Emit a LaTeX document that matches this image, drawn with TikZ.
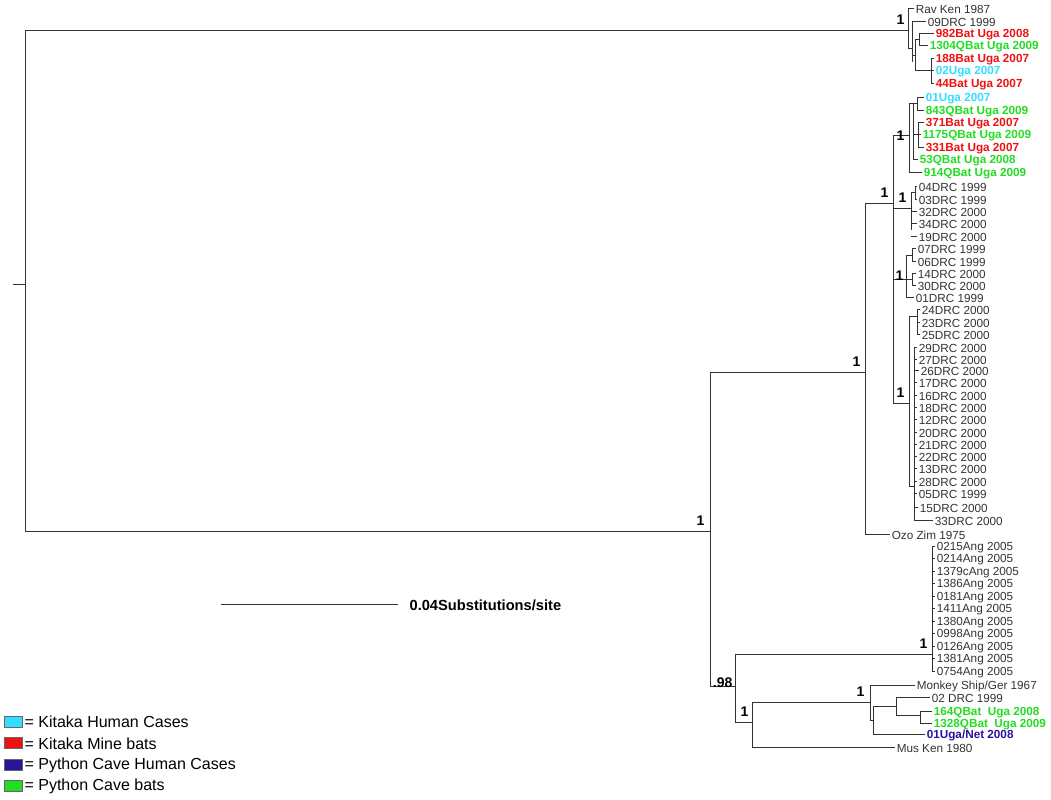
\documentclass[tikz,border=0pt]{standalone}
\usepackage{fontspec}
\setmainfont{Liberation Sans}
\usepackage{xcolor}
\definecolor{kitH}{HTML}{33DDFF}
\definecolor{kitB}{HTML}{EE1111}
\definecolor{pytH}{HTML}{2A1299}
\definecolor{pytB}{HTML}{22DD22}
\tikzset{
  br/.style={line width=0.7pt, black!80},
  lbl/.style={anchor=west, inner sep=1pt, yshift=-1pt, font=\fontsize{8.8}{9}\selectfont},
  kh/.style={lbl, text=kitH, font=\fontsize{8.8}{9}\selectfont\bfseries},
  kb/.style={lbl, text=kitB, font=\fontsize{8.8}{9}\selectfont\bfseries},
  ph/.style={lbl, text=pytH, font=\fontsize{8.8}{9}\selectfont\bfseries},
  pb/.style={lbl, text=pytB, font=\fontsize{8.8}{9}\selectfont\bfseries},
  sup/.style={font=\fontsize{10.5}{11}\selectfont\bfseries, anchor=south east, inner sep=1pt},
}
% leaf: style, node x, tip x, y, text
\newcommand{\leaf}[5][lbl]{\draw[br] (#2,#4) -- (#3,#4) node[#1] {#5};}
\newcommand{\vbr}[3]{\draw[br] (#1,#2) -- (#1,#3);}
\newcommand{\hbr}[3]{\draw[br] (#1,#3) -- (#2,#3);}
\begin{document}
\begin{tikzpicture}[x=0.75pt,y=-0.75pt]
\useasboundingbox (0,0) rectangle (1051,800);
% root
\hbr{13}{25}{284}
\vbr{25}{30}{531}
\hbr{25}{908}{30}
\hbr{25}{710}{531}
\node[sup] at (906,26) {1};
\node[sup] at (706,527) {1};
% top clade
\vbr{908}{8}{48}
\leaf{908}{914}{8}{Rav Ken 1987}
\hbr{908}{912}{48}
\vbr{912}{21}{62}
\leaf{912}{926}{21}{09DRC 1999}
\hbr{912}{915}{55}
\vbr{915}{39}{70}
\hbr{915}{919}{39}
\vbr{919}{33}{45}
\leaf[kb]{919}{934}{33}{982Bat Uga 2008}
\leaf[pb]{919}{928}{45}{1304QBat Uga 2009}
\hbr{915}{931}{70}
\vbr{931}{58}{83}
\leaf[kb]{931}{934}{58}{188Bat Uga 2007}
\leaf[kh]{931}{934}{70}{02Uga 2007}
\leaf[kb]{931}{934}{83}{44Bat Uga 2007}
% DRC / Uga clade
\hbr{710}{865}{372}
\node[sup] at (862,368) {1};
\vbr{865}{203}{534}
\leaf{865}{890}{534}{Ozo Zim 1975}
\hbr{865}{893}{203}
\node[sup] at (890,199) {1};
\vbr{893}{135}{403}
\hbr{893}{909}{135}
\node[sup] at (906,142) {1};
\vbr{909}{103}{172}
\leaf[pb]{909}{922}{172}{914QBat Uga 2009}
\hbr{909}{913}{103}
\vbr{913}{103}{159}
\hbr{913}{917}{103}
\vbr{917}{97}{110}
\leaf[kh]{917}{924}{97}{01Uga 2007}
\leaf[pb]{917}{924}{110}{843QBat Uga 2009}
\hbr{913}{918}{134}
\vbr{918}{122}{147}
\leaf[kb]{918}{924}{122}{371Bat Uga 2007}
\leaf[pb]{918}{921}{134}{1175QBat Uga 2009}
\leaf[kb]{918}{924}{147}{331Bat Uga 2007}
\leaf[pb]{913}{918}{159}{53QBat Uga 2008}
% DRC 1999 clade
\hbr{893}{911}{208}
\node[sup] at (908,204) {1};
\vbr{911}{192}{230}
\hbr{911}{915}{192}
\vbr{915}{186}{199}
\leaf{915}{917}{186}{04DRC 1999}
\leaf{915}{917}{199}{03DRC 1999}
\leaf{911}{917}{211}{32DRC 2000}
\leaf{911}{917}{223}{34DRC 2000}
\leaf{911}{917}{236}{19DRC 2000}
% 07..01 clade
\hbr{893}{906}{279}
\node[sup] at (905,282) {1};
\vbr{906}{255}{297}
\hbr{906}{912}{255}
\vbr{912}{248}{261}
\leaf{912}{916}{248}{07DRC 1999}
\leaf{912}{916}{261}{06DRC 1999}
\hbr{906}{912}{279}
\vbr{912}{273}{285}
\leaf{912}{916}{273}{14DRC 2000}
\leaf{912}{916}{285}{30DRC 2000}
\leaf{906}{914}{297}{01DRC 1999}
% big DRC clade
\hbr{893}{909}{403}
\node[sup] at (906,399) {1};
\vbr{909}{316}{486}
\hbr{909}{917}{316}
\vbr{917}{309}{334}
\leaf{917}{920}{309}{24DRC 2000}
\leaf{917}{920}{322}{23DRC 2000}
\leaf{917}{920}{334}{25DRC 2000}
\hbr{909}{914}{486}
\vbr{914}{347}{520}
\leaf{914}{917}{347}{29DRC 2000}
\leaf{914}{917}{359}{27DRC 2000}
\leaf{914}{919}{370}{26DRC 2000}
\leaf{914}{917}{382}{17DRC 2000}
\leaf{914}{917}{395}{16DRC 2000}
\leaf{914}{917}{407}{18DRC 2000}
\leaf{914}{917}{419}{12DRC 2000}
\leaf{914}{917}{432}{20DRC 2000}
\leaf{914}{917}{444}{21DRC 2000}
\leaf{914}{917}{456}{22DRC 2000}
\leaf{914}{917}{468}{13DRC 2000}
\leaf{914}{917}{481}{28DRC 2000}
\leaf{914}{917}{493}{05DRC 1999}
\leaf{914}{918}{507}{15DRC 2000}
\leaf{914}{933}{520}{33DRC 2000}
% lower clade
\vbr{710}{372}{686}
\hbr{710}{735}{686}
\node[sup] at (734,689) {.98};
\vbr{735}{654}{722}
\hbr{735}{932}{654}
\node[sup] at (929,650) {1};
\vbr{932}{546}{671}
\foreach \n [count=\i from 0] in {0215Ang 2005,0214Ang 2005,1379cAng 2005,1386Ang 2005,0181Ang 2005,1411Ang 2005,1380Ang 2005,0998Ang 2005,0126Ang 2005,1381Ang 2005,0754Ang 2005}
  {\leaf{932}{935}{546+12.5*\i}{\n}}
\hbr{735}{752}{722}
\node[sup] at (750,718) {1};
\vbr{752}{702}{747}
\leaf{752}{895}{747}{Mus Ken 1980}
\hbr{752}{870}{702}
\node[sup] at (866,698) {1};
\vbr{870}{685}{720}
\leaf{870}{915}{685}{Monkey Ship/Ger 1967}
\hbr{870}{873}{720}
\vbr{873}{706}{734}
\leaf[ph]{873}{925}{734}{01Uga/Net 2008}
\hbr{873}{896}{706}
\vbr{896}{697}{715}
\leaf{896}{930}{697}{02 DRC 1999}
\hbr{896}{920}{715}
\vbr{920}{711}{723}
\leaf[pb]{920}{932}{711}{164QBat~ Uga 2008}
\leaf[pb]{920}{932}{723}{1328QBat~ Uga 2009}
% scale bar
\hbr{221}{398}{604}
\node[anchor=west, inner sep=1pt, font=\fontsize{11}{12}\selectfont\bfseries] (scale) at (408,605) {0.04Substitutions/site};
% legend
\foreach \c/\t [count=\i from 0] in {kitH/Kitaka Human Cases,kitB/Kitaka Mine bats,pytH/Python Cave Human Cases,pytB/Python Cave bats}
  {\draw[black!60, fill=\c] (4,716+21.5*\i) rectangle (22,727+21.5*\i);
   \node[anchor=west, inner sep=1pt, font=\fontsize{12}{13}\selectfont] (leg\i) at (23,722+21.5*\i) {= \t};}
\end{tikzpicture}
\end{document}
